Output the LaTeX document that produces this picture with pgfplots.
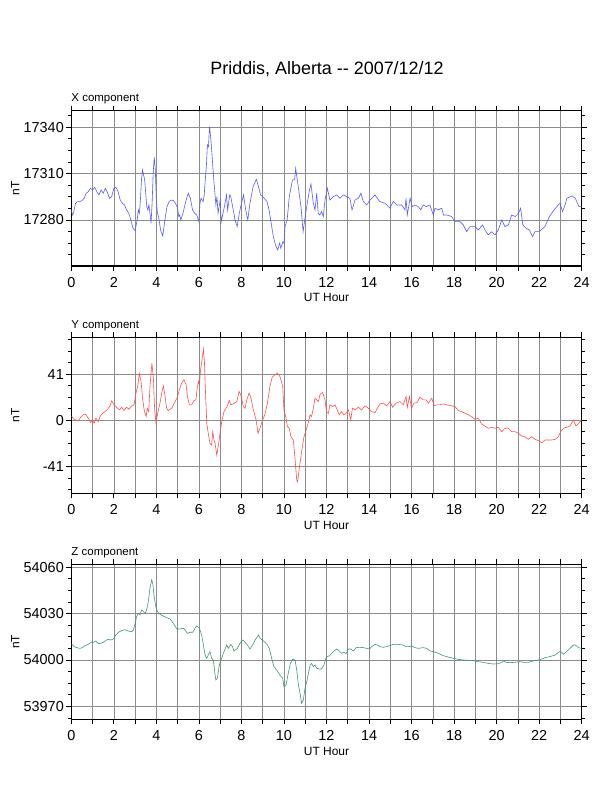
\documentclass[border=0pt]{standalone}
\usepackage{fontspec}
\setmainfont{Liberation Sans}
\usepackage{pgfplots}
\pgfplotsset{compat=1.18}
\definecolor{xblue}{RGB}{90,90,255}
\definecolor{yred}{RGB}{255,80,80}
\definecolor{zgreen}{RGB}{70,150,110}
\definecolor{gridgray}{RGB}{140,140,140}
\pgfplotsset{
  gmt/.style={
    scale only axis,
    width=510.4bp,
    xmin=0, xmax=24,
    scaled x ticks=false, scaled y ticks=false,
    xtick={0,1,...,24},
    xticklabels={0,,2,,4,,6,,8,,10,,12,,14,,16,,18,,20,,22,,24},
    tick align=outside,
    xtick pos=both, ytick pos=both,
    xticklabel pos=lower, yticklabel pos=left,
    major tick length=5bp, minor tick length=3bp,
    every tick/.style={black, line width=0.8bp},
    grid=major,
    major grid style={gridgray, line width=0.6bp},
    axis line style={line width=1.2bp},
    tick label style={font=\fontsize{14.5}{17}\selectfont, inner sep=0pt},
    xticklabel style={anchor=base, yshift=-16.7bp},
    yticklabel style={anchor=east, xshift=-2.3bp},
    xlabel={UT Hour},
    every axis x label/.style={at={(rel axis cs:0.5,0)}, anchor=base, yshift=-36bp, inner sep=0pt, font=\fontsize{12}{14}\selectfont},
    ylabel={nT},
    every axis y label/.style={at={(rel axis cs:0,0.5)}, xshift=-56bp, rotate=90, anchor=center, inner sep=0pt, font=\fontsize{12}{14}\selectfont},
    every axis title/.style={at={(rel axis cs:0,1)}, anchor=base west, yshift=9.2bp, inner sep=0pt, font=\fontsize{11.5}{14}\selectfont},
    every axis plot/.append style={line width=0.6bp, mark=none},
  }
}
\begin{document}
\begin{tikzpicture}
\useasboundingbox (0,0) rectangle (612bp,792bp);
\node[anchor=base, font=\fontsize{18}{20}\selectfont, inner sep=0pt] at (327bp,717bp) {Priddis, Alberta {-}{-} 2007/12/12};

\begin{axis}[gmt, at={(71.3bp,526bp)}, anchor=south west, height=155.3bp,
  ymin=17250.2, ymax=17350.7,
  ytick={17280,17310,17340}, yticklabels={17280,17310,17340},
  minor ytick={17257.5,17265,17272.5,17287.5,17295,17302.5,17317.5,17325,17332.5,17347.5},
  title={X component}]
\addplot[xblue] coordinates {
(0.00,17286.5)(0.05,17283.2)(0.10,17284.3)(0.20,17290.8)(0.30,17291.9)(0.40,17291.9)(0.50,17292.5)(0.60,17294.0)(0.70,17297.3)(0.80,17298.3)(0.90,17300.5)(1.00,17299.4)(1.10,17301.1)(1.20,17298.3)(1.30,17296.2)(1.40,17299.4)(1.50,17297.3)(1.60,17300.5)(1.70,17297.7)(1.80,17294.0)(1.90,17295.1)(2.00,17300.5)(2.10,17301.1)(2.20,17298.3)(2.30,17292.9)(2.40,17290.8)(2.50,17289.7)(2.60,17286.5)(2.70,17284.3)(2.80,17280.0)(2.90,17274.6)(3.00,17273.1)(3.10,17280.0)(3.15,17286.5)(3.20,17284.3)(3.25,17292.9)(3.30,17305.9)(3.35,17312.4)(3.45,17305.9)(3.55,17288.6)(3.60,17286.5)(3.65,17289.7)(3.70,17284.3)(3.75,17277.8)(3.80,17290.8)(3.85,17310.2)(3.90,17320.6)(3.95,17312.4)(4.00,17292.9)(4.05,17284.3)(4.10,17282.2)(4.20,17273.5)(4.30,17269.6)(4.40,17280.0)(4.50,17288.6)(4.60,17291.9)(4.70,17292.9)(4.80,17292.5)(4.90,17290.8)(5.00,17287.6)(5.05,17282.2)(5.10,17283.2)(5.15,17280.0)(5.25,17284.3)(5.40,17292.9)(5.50,17297.3)(5.60,17294.0)(5.70,17286.5)(5.80,17284.3)(5.90,17283.2)(6.00,17278.9)(6.05,17290.8)(6.10,17294.0)(6.20,17291.9)(6.25,17296.2)(6.30,17305.9)(6.35,17314.5)(6.40,17328.6)(6.45,17327.5)(6.50,17340.4)(6.55,17334.0)(6.60,17325.3)(6.70,17305.9)(6.80,17289.7)(6.85,17295.1)(6.90,17284.3)(7.00,17292.9)(7.05,17278.9)(7.10,17282.2)(7.20,17288.6)(7.30,17296.2)(7.35,17286.5)(7.45,17296.2)(7.50,17295.1)(7.60,17287.6)(7.70,17280.0)(7.80,17275.7)(7.90,17284.3)(8.00,17290.8)(8.10,17296.2)(8.20,17286.5)(8.30,17280.0)(8.40,17290.8)(8.55,17301.6)(8.70,17306.3)(8.80,17301.6)(8.90,17296.2)(9.00,17295.1)(9.20,17291.9)(9.30,17286.5)(9.50,17269.2)(9.60,17263.8)(9.70,17260.6)(9.80,17264.9)(9.85,17261.7)(9.95,17266.0)(10.00,17264.9)(10.05,17275.7)(10.15,17280.0)(10.25,17295.1)(10.40,17305.9)(10.50,17305.9)(10.55,17313.4)(10.65,17303.7)(10.80,17288.6)(10.90,17272.4)(11.00,17282.2)(11.07,17288.6)(11.20,17299.4)(11.27,17303.3)(11.38,17290.8)(11.46,17286.5)(11.54,17297.3)(11.61,17284.3)(11.69,17283.2)(11.77,17285.4)(11.85,17282.2)(11.93,17292.9)(12.04,17300.5)(12.16,17292.9)(12.32,17295.1)(12.48,17296.2)(12.63,17294.0)(12.79,17296.2)(12.95,17295.1)(13.10,17294.0)(13.20,17286.5)(13.34,17292.9)(13.50,17294.0)(13.62,17297.3)(13.73,17291.9)(13.89,17289.7)(14.05,17292.9)(14.28,17296.2)(14.50,17291.9)(14.75,17290.8)(14.98,17287.6)(15.14,17291.9)(15.30,17289.7)(15.53,17289.7)(15.69,17286.5)(15.74,17294.0)(15.80,17283.2)(15.93,17294.0)(16.03,17288.6)(16.16,17289.7)(16.32,17288.6)(16.43,17286.5)(16.55,17289.7)(16.70,17288.6)(16.86,17289.7)(17.02,17283.2)(17.10,17287.6)(17.26,17286.5)(17.42,17287.6)(17.50,17283.2)(17.65,17283.2)(17.89,17282.2)(18.04,17278.9)(18.28,17278.9)(18.43,17276.8)(18.59,17272.4)(18.75,17275.7)(18.98,17275.7)(19.14,17273.5)(19.34,17276.8)(19.45,17273.5)(19.61,17270.3)(19.77,17272.4)(19.92,17270.3)(20.08,17273.5)(20.24,17280.0)(20.39,17275.7)(20.55,17276.8)(20.71,17283.2)(20.87,17282.2)(21.03,17284.3)(21.13,17287.6)(21.23,17276.8)(21.38,17274.6)(21.54,17273.5)(21.69,17269.2)(21.80,17272.4)(22.00,17272.4)(22.27,17275.7)(22.48,17282.2)(22.70,17286.5)(22.90,17289.7)(22.98,17290.8)(23.10,17285.4)(23.22,17289.7)(23.30,17294.0)(23.55,17295.5)(23.70,17294.0)(23.87,17288.6)(24.00,17288.6)
};
\end{axis}

\begin{axis}[gmt, at={(71.3bp,298.7bp)}, anchor=south west, height=156bp,
  ymin=-64.8, ymax=73.65,
  ytick={-41,0,41}, yticklabels={-41,0,41},
  minor ytick={-61.5,-51.25,-30.75,-20.5,-10.25,10.25,20.5,30.75,51.25,61.5,71.75},
  title={Y component}]
\addplot[yred] coordinates {
(0.00,3.3)(0.03,3.3)(0.13,0.9)(0.22,0.3)(0.33,-0.6)(0.44,2.7)(0.56,4.8)(0.67,5.3)(0.80,1.8)(0.91,-2.1)(1.00,0.3)(1.07,-2.7)(1.16,1.8)(1.27,-1.2)(1.35,3.3)(1.47,6.2)(1.58,7.7)(1.69,9.2)(1.82,12.8)(1.90,17.2)(2.01,13.7)(2.13,11.6)(2.26,9.2)(2.37,11.6)(2.48,8.6)(2.60,11.6)(2.71,9.8)(2.84,12.8)(2.95,13.7)(3.04,24.1)(3.12,30.0)(3.20,41.6)(3.28,34.5)(3.36,18.1)(3.44,7.7)(3.52,3.3)(3.57,10.7)(3.64,7.7)(3.70,30.0)(3.79,50.8)(3.86,37.4)(3.92,9.2)(3.98,-2.1)(4.06,6.2)(4.17,15.2)(4.25,24.1)(4.33,30.6)(4.41,21.1)(4.48,10.7)(4.56,8.6)(4.72,10.7)(4.88,16.6)(4.99,20.5)(5.08,27.0)(5.19,33.0)(5.30,35.9)(5.40,31.5)(5.46,21.1)(5.55,13.7)(5.66,13.7)(5.77,17.5)(5.86,18.1)(5.93,30.0)(5.98,34.5)(6.02,31.5)(6.08,44.9)(6.16,55.3)(6.21,63.3)(6.26,52.3)(6.30,30.0)(6.37,-2.7)(6.44,-11.6)(6.52,-20.5)(6.60,-22.0)(6.65,-10.1)(6.71,-17.5)(6.76,-20.5)(6.84,-30.9)(6.92,-22.0)(7.00,-10.1)(7.09,0.3)(7.18,7.7)(7.31,11.6)(7.43,17.5)(7.50,13.7)(7.62,14.6)(7.78,16.6)(7.89,25.6)(7.97,22.6)(8.09,12.2)(8.17,10.7)(8.25,18.1)(8.36,24.1)(8.43,21.1)(8.56,9.2)(8.69,0.3)(8.78,-11.6)(8.87,-7.1)(9.00,0.3)(9.11,5.6)(9.22,15.2)(9.34,30.0)(9.45,38.3)(9.58,40.4)(9.69,41.9)(9.81,38.9)(9.94,30.0)(10.00,9.2)(10.10,1.8)(10.16,-5.6)(10.25,-7.1)(10.33,-14.6)(10.44,-17.5)(10.52,-33.9)(10.60,-53.2)(10.64,-54.7)(10.72,-42.8)(10.83,-27.9)(10.94,-14.6)(11.07,-7.1)(11.15,-1.2)(11.23,4.8)(11.30,3.3)(11.38,10.7)(11.46,19.6)(11.54,18.1)(11.62,16.6)(11.69,22.6)(11.82,24.7)(11.93,18.1)(12.00,7.7)(12.09,6.2)(12.16,13.7)(12.29,12.2)(12.40,13.7)(12.51,9.2)(12.60,4.8)(12.71,7.7)(12.82,4.8)(12.92,6.2)(13.03,9.2)(13.14,0.3)(13.22,10.7)(13.34,9.2)(13.50,11.6)(13.65,9.2)(13.81,12.8)(13.97,10.7)(14.12,7.7)(14.28,6.8)(14.39,10.7)(14.52,14.6)(14.67,15.2)(14.83,12.8)(14.98,16.6)(15.11,11.6)(15.27,15.2)(15.46,16.6)(15.61,13.7)(15.74,21.1)(15.80,11.6)(15.90,21.1)(16.00,10.7)(16.11,15.2)(16.26,15.7)(16.39,20.5)(16.55,18.1)(16.68,18.1)(16.79,15.2)(16.95,19.6)(17.06,12.8)(17.18,13.7)(17.34,13.7)(17.49,14.6)(17.65,13.7)(17.88,12.8)(18.04,12.2)(18.20,8.6)(18.35,7.7)(18.51,6.2)(18.67,4.8)(18.82,3.3)(18.98,0.9)(19.14,1.8)(19.29,-3.3)(19.45,-5.1)(19.61,-7.1)(19.76,-6.2)(19.92,-7.1)(20.08,-6.2)(20.24,-10.1)(20.39,-7.1)(20.55,-7.1)(20.71,-10.1)(20.87,-10.1)(21.02,-11.6)(21.18,-14.0)(21.33,-14.6)(21.49,-16.9)(21.65,-14.6)(21.81,-16.9)(21.97,-18.1)(22.12,-19.9)(22.28,-17.5)(22.43,-17.5)(22.59,-17.5)(22.75,-16.9)(22.90,-14.6)(23.01,-10.1)(23.14,-7.1)(23.29,-6.2)(23.45,-5.1)(23.61,0.3)(23.73,-5.1)(23.84,-3.3)(23.92,-1.2)(24.00,0.3)
};
\end{axis}

\begin{axis}[gmt, at={(71.3bp,72.7bp)}, anchor=south west, height=155bp,
  ymin=53961.7, ymax=54061.8,
  ytick={53970,54000,54030,54060}, yticklabels={53970,54000,54030,54060},
  minor ytick={53962.5,53977.5,53985,53992.5,54007.5,54015,54022.5,54037.5,54045,54052.5},
  title={Z component}]
\addplot[zgreen] coordinates {
(0.00,54010.1)(0.03,54010.1)(0.13,54008.6)(0.25,54008.0)(0.41,54007.5)(0.53,54008.0)(0.64,54009.3)(0.80,54010.1)(0.91,54011.2)(1.04,54011.4)(1.16,54012.3)(1.27,54010.6)(1.38,54010.8)(1.51,54011.4)(1.63,54012.7)(1.74,54013.4)(1.85,54012.9)(1.98,54013.6)(2.10,54016.2)(2.21,54017.9)(2.37,54019.0)(2.52,54019.6)(2.68,54018.7)(2.84,54018.3)(2.92,54019.4)(3.00,54023.7)(3.07,54028.0)(3.15,54030.2)(3.23,54029.1)(3.31,54032.3)(3.39,54031.2)(3.47,54030.2)(3.54,54032.3)(3.61,54036.6)(3.70,54046.3)(3.78,54051.7)(3.83,54049.5)(3.89,54042.0)(3.97,54034.5)(4.05,54031.2)(4.17,54029.5)(4.33,54028.4)(4.48,54027.4)(4.64,54026.5)(4.80,54023.7)(4.96,54020.0)(5.11,54020.0)(5.27,54020.5)(5.35,54019.4)(5.46,54017.2)(5.59,54017.9)(5.71,54017.9)(5.82,54020.5)(5.90,54022.0)(6.02,54020.5)(6.13,54016.2)(6.21,54009.7)(6.29,54003.2)(6.37,54001.1)(6.44,54003.2)(6.52,54005.4)(6.60,54001.1)(6.68,54000.0)(6.76,53990.3)(6.80,53987.1)(6.87,53988.2)(6.96,53996.8)(7.07,54001.1)(7.18,54005.4)(7.31,54009.7)(7.38,54007.5)(7.50,54010.1)(7.58,54008.6)(7.65,54005.8)(7.81,54007.5)(7.93,54010.8)(8.06,54012.9)(8.17,54011.4)(8.28,54009.7)(8.40,54007.1)(8.53,54009.7)(8.64,54012.9)(8.72,54014.4)(8.80,54016.2)(8.88,54014.0)(8.98,54012.9)(9.11,54011.4)(9.22,54009.7)(9.31,54007.5)(9.42,54001.1)(9.53,53995.7)(9.66,53993.5)(9.81,53990.3)(9.94,53988.2)(10.00,53982.8)(10.10,53983.8)(10.20,53991.4)(10.30,53997.8)(10.41,54000.6)(10.52,54000.0)(10.60,53993.5)(10.68,53983.8)(10.77,53977.4)(10.83,53972.0)(10.91,53974.2)(10.99,53981.7)(11.07,53986.0)(11.15,53991.4)(11.23,53996.8)(11.30,53997.8)(11.38,53995.7)(11.46,53996.8)(11.54,53994.6)(11.66,53994.2)(11.77,53994.2)(11.88,53996.8)(12.00,54002.2)(12.13,54002.6)(12.24,54004.3)(12.35,54005.8)(12.48,54007.1)(12.60,54005.8)(12.71,54004.3)(12.82,54005.0)(12.92,54004.1)(13.03,54007.1)(13.14,54007.1)(13.26,54005.8)(13.39,54008.0)(13.54,54008.2)(13.73,54008.0)(13.89,54007.5)(14.02,54007.1)(14.12,54008.6)(14.28,54010.1)(14.39,54009.7)(14.52,54008.6)(14.67,54008.2)(14.83,54008.6)(14.98,54009.3)(15.14,54010.1)(15.38,54010.1)(15.58,54009.7)(15.74,54008.6)(15.85,54008.6)(16.00,54009.0)(16.16,54008.0)(16.32,54007.5)(16.55,54008.0)(16.71,54007.5)(16.87,54005.8)(17.02,54005.4)(17.26,54004.3)(17.49,54002.8)(17.73,54001.9)(17.96,54001.1)(18.20,54000.4)(18.43,54000.0)(18.67,53999.8)(18.90,53999.6)(19.14,53998.9)(19.37,53998.5)(19.61,53997.8)(19.85,53997.4)(20.08,53997.6)(20.24,53998.5)(20.32,53999.4)(20.45,53998.5)(20.63,53998.3)(20.87,53998.5)(21.10,53998.9)(21.26,53998.5)(21.49,53998.5)(21.72,53999.4)(21.97,54000.0)(22.12,54000.6)(22.28,54001.5)(22.51,54002.2)(22.75,54003.2)(22.95,54005.4)(23.06,54005.0)(23.14,54003.7)(23.26,54005.0)(23.37,54006.5)(23.53,54008.6)(23.61,54009.7)(23.69,54009.7)(23.77,54009.0)(23.84,54008.0)(24.00,54007.5)
};
\end{axis}
\end{tikzpicture}
\end{document}
